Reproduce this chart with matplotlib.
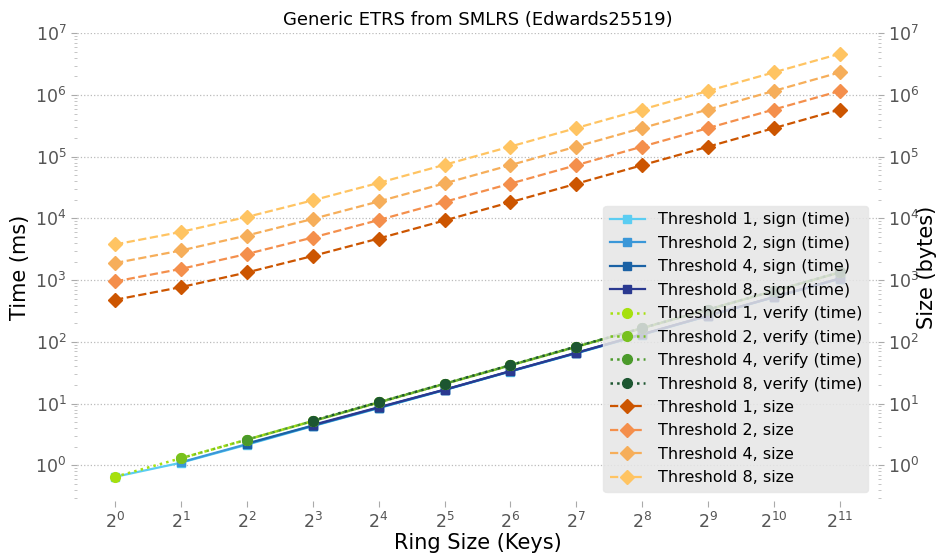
import matplotlib.pyplot as plt
from matplotlib.ticker import FixedLocator, FixedFormatter, LogLocator, NullFormatter

# ring sizes 2^0 .. 2^11
exps = list(range(12))
ring = [2 ** e for e in exps]
xlabels = ["$2^{%d}$" % e for e in exps]

thresholds = [1, 2, 4, 8]

# sign time (ms), one list per threshold (starts where n >= t)
sign_t1 = [0.65, 1.1, 2.15, 4.3, 8.4, 16.5, 33, 65, 130, 262, 525, 1050]
sign_t2 = [1.12, 2.2, 4.35, 8.5, 16.6, 33.2, 65.5, 131, 264, 528, 1055]
sign_t4 = [2.25, 4.4, 8.6, 16.7, 33.4, 66, 132, 265, 530, 1060]
sign_t8 = [4.5, 8.7, 16.8, 33.6, 66.5, 133, 266, 532, 1065]

# verify time (ms)
ver_t1 = [0.65, 1.3, 2.6, 5.2, 10.4, 20.8, 41.5, 83, 166, 332, 665, 1330]
ver_t2 = [1.3, 2.6, 5.2, 10.4, 20.8, 41.6, 83, 166, 333, 666, 1332]
ver_t4 = [2.6, 5.2, 10.5, 20.9, 41.7, 83.5, 167, 334, 667, 1335]
ver_t8 = [5.3, 10.5, 21, 42, 84, 167, 334, 668, 1340]

# signature size (bytes)
size_t1 = [480, 770, 1330, 2460, 4720, 9250, 18300, 36400, 72700, 145000, 290000, 580000]
size_t2 = [950, 1520, 2650, 4900, 9400, 18500, 36600, 72800, 145500, 290500, 581000, 1160000]
size_t4 = [1890, 3020, 5280, 9800, 18800, 36900, 73000, 145500, 290500, 581000, 1162000, 2323000]
size_t8 = [3780, 6040, 10550, 19600, 37600, 73800, 146000, 291000, 581000, 1162000, 2324000, 4646000]

sign_all = [sign_t1, sign_t2, sign_t4, sign_t8]
ver_all = [ver_t1, ver_t2, ver_t4, ver_t8]
size_all = [size_t1, size_t2, size_t4, size_t8]

sign_colors = ["#5bcdf2", "#3a97d8", "#1b62a5", "#2a3990"]
ver_colors = ["#a6e00e", "#78c11f", "#4b9a2b", "#1d5631"]
size_colors = ["#cc5500", "#f48f4c", "#f6ae5a", "#ffc462"]

fig, ax = plt.subplots(figsize=(9.38, 5.54), dpi=100)
ax2 = ax.twinx()

handles = []
for t, vals, c in zip(thresholds, sign_all, sign_colors):
    xs = ring[len(ring) - len(vals):]
    h, = ax.plot(xs, vals, "-", marker="s", color=c, lw=1.6, ms=6,
                 label="Threshold %d, sign (time)" % t)
    handles.append(h)
for t, vals, c in zip(thresholds, ver_all, ver_colors):
    xs = ring[len(ring) - len(vals):]
    h, = ax.plot(xs, vals, ":", marker="o", color=c, lw=1.8, ms=7,
                 label="Threshold %d, verify (time)" % t)
    handles.append(h)
for t, vals, c in zip(thresholds, size_all, size_colors):
    h, = ax2.plot(ring, vals, "--", marker="D", color=c, lw=1.6, ms=7,
                  label="Threshold %d, size" % t)
    handles.append(h)

for a in (ax, ax2):
    a.set_yscale("log")
    a.set_xscale("log", base=2)
    a.set_ylim(0.26, 1e7)
    a.set_xlim(2 ** -0.58, 2 ** 11.58)
    for s in a.spines.values():
        s.set_visible(False)
    a.yaxis.set_major_locator(LogLocator(base=10, numticks=20))
    a.yaxis.set_minor_locator(LogLocator(base=10, subs=range(2, 10), numticks=20))
    a.yaxis.set_minor_formatter(NullFormatter())
    a.tick_params(axis="both", which="major", colors="#aaaaaa", labelcolor="#555555",
                  labelsize=12.5, length=4, width=0.8)
    a.tick_params(axis="y", which="minor", colors="#bbbbbb", length=2, width=0.6)

ax.xaxis.set_major_locator(FixedLocator(ring))
ax.xaxis.set_major_formatter(FixedFormatter(xlabels))
ax.xaxis.set_minor_locator(FixedLocator([]))
ax.grid(axis="y", which="major", linestyle=":", color="#bbbbbb", lw=0.9)
ax.set_axisbelow(True)

ax.set_ylabel("Time (ms)", fontsize=15)
ax2.set_ylabel("Size (bytes)", fontsize=15, labelpad=-2)
ax.set_xlabel("Ring Size (Keys)", fontsize=15, labelpad=1)
ax.set_title("Generic ETRS from SMLRS (Edwards25519)", fontsize=13)

leg = ax2.legend(handles=handles, loc="lower right", fontsize=11.5, facecolor="#e6e6e6",
                 edgecolor="#e6e6e6", framealpha=0.85, handlelength=2.2,
                 borderaxespad=0.6, labelspacing=0.53)

fig.subplots_adjust(left=0.082, right=0.936, top=0.94, bottom=0.095)
fig.savefig("out.png")
